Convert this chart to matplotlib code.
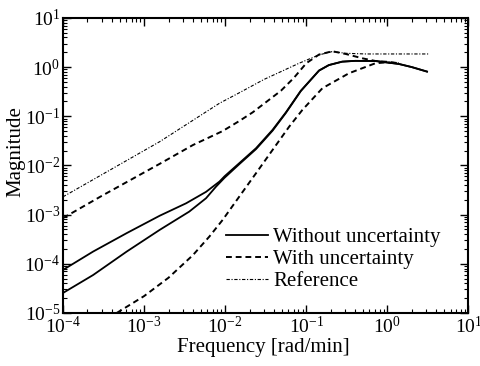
import numpy as np
import matplotlib
matplotlib.use("Agg")
import matplotlib.pyplot as plt

plt.rcParams["font.family"] = ["Liberation Serif", "DejaVu Serif"]
plt.rcParams["mathtext.fontset"] = "custom"
plt.rcParams["mathtext.rm"] = "Liberation Serif"
plt.rcParams["mathtext.it"] = "Liberation Serif:italic"

# without uncertainty, two outputs (upper and lower solid curves)
wo_a_freq = [1e-4, 2.35e-4, 6.1e-4, 1.56e-3, 3.3e-3, 5.8e-3, 8.5e-3, 9.8e-3, 0.0149, 0.024,
             0.0384, 0.056, 0.0855, 0.1435, 0.19, 0.277, 0.4, 0.714, 1.38, 2.0, 3.08]
wo_a_mag = [7.5e-5, 1.77e-4, 4.2e-4, 9.5e-4, 1.7e-3, 2.9e-3, 4.7e-3, 6.0e-3, 0.0111, 0.0224,
            0.053, 0.12, 0.33, 0.85, 1.1, 1.29, 1.34, 1.33, 1.16, 1.0, 0.81]
wo_b_freq = [1e-4, 2.35e-4, 6.1e-4, 1.56e-3, 3.6e-3, 5.8e-3, 7.7e-3, 9.8e-3, 0.0149, 0.024,
             0.0384, 0.056, 0.0855, 0.1435, 0.19, 0.277, 0.4, 0.714, 1.38, 2.0, 3.08]
wo_b_mag = [2.55e-5, 5.9e-5, 1.77e-4, 4.9e-4, 1.15e-3, 2.15e-3, 3.7e-3, 5.6e-3, 0.0106, 0.0215,
            0.051, 0.117, 0.325, 0.85, 1.1, 1.29, 1.34, 1.33, 1.16, 1.0, 0.81]

# with uncertainty (upper and lower dashed curves)
wu_a_freq = [1e-4, 3e-4, 1.56e-3, 4e-3, 9.3e-3, 0.0149, 0.0218, 0.0486, 0.07, 0.1,
             0.1435, 0.209, 0.306, 0.5, 0.714, 1.0, 1.38]
wu_a_mag = [8.5e-4, 2.4e-3, 0.0108, 0.026, 0.05, 0.08, 0.12, 0.33, 0.6, 1.2,
            1.8, 2.1, 1.85, 1.5, 1.33, 1.28, 1.2]
wu_b_freq = [4.6e-4, 1e-3, 2e-3, 4e-3, 6.4e-3, 9.3e-3, 0.0149, 0.024, 0.0384, 0.0615,
             0.0896, 0.158, 0.336, 0.714, 1.0, 1.38]
wu_b_mag = [1.0e-5, 2.2e-5, 5.2e-5, 1.5e-4, 3.6e-4, 7.8e-4, 2.32e-3, 6.95e-3, 0.0207, 0.0615,
            0.135, 0.372, 0.75, 1.2, 1.25, 1.2]

# reference model
ref_freq = [1e-4, 1.56e-3, 8.5e-3, 0.0149, 0.03, 0.0817, 0.1435, 0.209, 0.306, 0.538, 1.0, 3.23]
ref_mag = [2.3e-3, 0.0305, 0.184, 0.3, 0.56, 1.2, 1.77, 2.07, 1.91, 1.85, 1.85, 1.85]

fig = plt.figure(figsize=(4.81, 3.66), dpi=100)
ax = fig.add_axes([0.131, 0.145, 0.843, 0.806])

ax.loglog(wo_a_freq, wo_a_mag, color="black", lw=1.3, label="Without uncertainty")
ax.loglog(wo_b_freq, wo_b_mag, color="black", lw=1.3)
ax.loglog(wu_a_freq, wu_a_mag, color="black", lw=1.4, ls=(0, (3, 2)), label="With uncertainty")
ax.loglog(wu_b_freq, wu_b_mag, color="black", lw=1.4, ls=(0, (3, 2)))
ax.loglog(ref_freq, ref_mag, color="black", lw=0.8, ls=(0, (3, 1.5, 1, 1.5)), label="Reference")

ax.set_xlim(1e-4, 1e1)
ax.set_ylim(1e-5, 1e1)

ax.tick_params(which="both", direction="in", top=True, right=True, labelsize=14)
ax.tick_params(which="major", length=6, width=1)
ax.tick_params(which="minor", length=3, width=0.8)
ax.tick_params(axis="y", pad=2)
ax.tick_params(axis="x", pad=2)
for s in ax.spines.values():
    s.set_linewidth(1.5)

ax.set_xlabel("Frequency [rad/min]", fontsize=15)
ax.set_ylabel("Magnitude", fontsize=15)
ax.xaxis.set_label_coords(0.494, -0.085)
ax.yaxis.set_label_coords(-0.093, 0.546)

ax.legend(loc="upper left", bbox_to_anchor=(0.403, 0.29), frameon=False, fontsize=15,
          handlelength=2.0, handletextpad=0.25, labelspacing=0.12, borderpad=0, borderaxespad=0)

fig.savefig("out.png", dpi=100)
